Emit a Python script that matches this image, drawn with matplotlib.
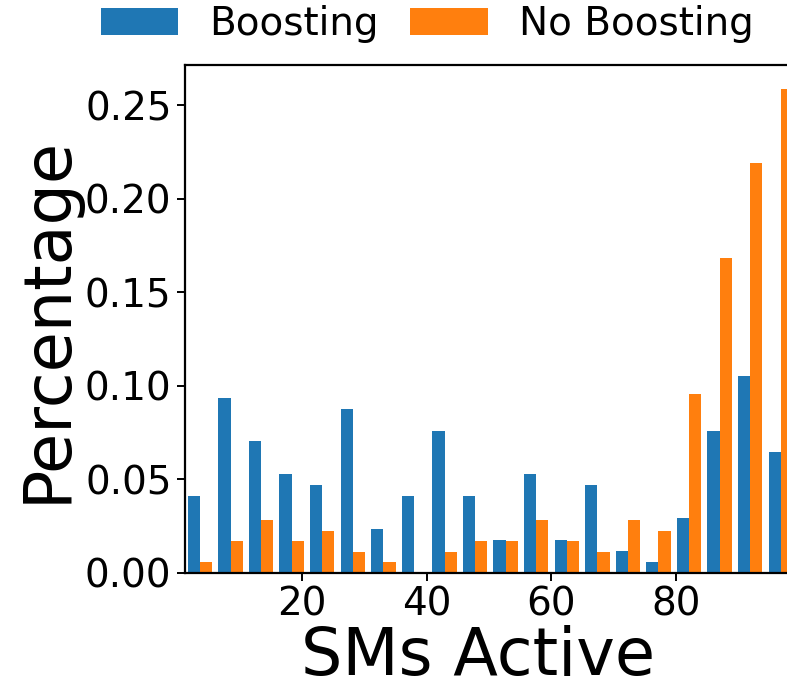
import numpy as np
import matplotlib
matplotlib.use("Agg")
import matplotlib.pyplot as plt

# share of samples per bin of active SMs
boosting = [0.0409, 0.0936, 0.0702, 0.0526, 0.0468, 0.0877, 0.0234, 0.0409, 0.0760, 0.0409,
            0.0175, 0.0526, 0.0175, 0.0468, 0.0117, 0.0058, 0.0292, 0.0760, 0.1053, 0.0643]
no_boosting = [0.0056, 0.0169, 0.0281, 0.0169, 0.0225, 0.0112, 0.0056, 0.0, 0.0112, 0.0169,
               0.0169, 0.0281, 0.0169, 0.0112, 0.0281, 0.0225, 0.0955, 0.1685, 0.2191, 0.2584]
labels = ["Boosting", "No Boosting"]
sm_min = 1.1
sm_max = 99.3
n_bins = 20

edges = np.linspace(sm_min, sm_max, n_bins + 1)
centers = (edges[:-1] + edges[1:]) / 2

fig = plt.figure(figsize=(7.87, 6.9), dpi=100)
ax = fig.add_axes([0.2347, 0.170, 0.7768, 0.7354])

ax.hist([centers, centers], bins=edges, weights=[boosting, no_boosting],
        color=["#1f77b4", "#ff7f0e"], label=labels)

ax.set_xlim(sm_min, sm_max)
ax.set_xticks([20, 40, 60, 80])
ax.set_yticks([0.0, 0.05, 0.10, 0.15, 0.20, 0.25])
ax.yaxis.set_major_formatter(matplotlib.ticker.FormatStrFormatter("%.2f"))
ax.tick_params(labelsize=28, length=6, width=1.4)
for s in ax.spines.values():
    s.set_linewidth(1.6)

ax.set_xlabel("SMs Active", fontsize=47, labelpad=1)
ax.set_ylabel("Percentage", fontsize=47)
ax.xaxis.label.set_x(0.48)

fig.legend(loc="center", bbox_to_anchor=(0.5427, 0.9648), ncol=2, frameon=False,
           fontsize=28, columnspacing=0.8)

fig.savefig("out.png", dpi=100)
plt.close()
